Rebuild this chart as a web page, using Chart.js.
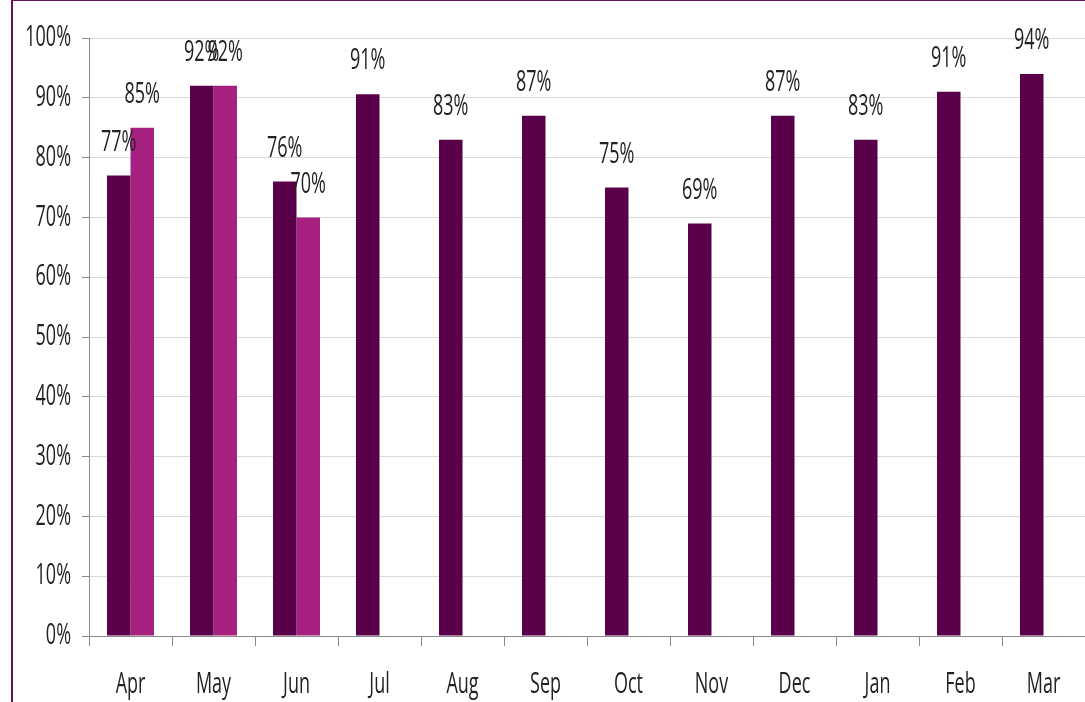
<!DOCTYPE html>
<html>
<head>
<meta charset="utf-8">
<script src="https://cdn.jsdelivr.net/npm/chart.js@4"></script>
<style>
    html, body { margin: 0; padding: 0; background: #fff; overflow: hidden; }
    #wrap { position: relative; width: 1085px; height: 702px; }
    #frame {
        position: absolute; left: 11px; top: -1px; width: 1100px; height: 720px;
        border: 2px solid #6b1060; box-sizing: border-box; pointer-events: none;
    }
    canvas { position: absolute; left: 0; top: 0; }
</style>
</head>
<body>
<div id="wrap">
    <canvas id="chart" width="1085" height="702"></canvas>
    <div id="frame"></div>
</div>
<script>
const months = ['Apr', 'May', 'Jun', 'Jul', 'Aug', 'Sep', 'Oct', 'Nov', 'Dec', 'Jan', 'Feb', 'Mar'];
const seriesA = [77, 92, 76, 90.6, 83, 87, 75, 69, 87, 83, 91, 94];
const seriesB = [85, 92, 70, null, null, null, null, null, null, null, null, null];
const yTicks = [0, 10, 20, 30, 40, 50, 60, 70, 80, 90, 100];

// the original uses a tall, narrow font: draw text squeezed horizontally
const textFont = '29px "Open Sans", "DejaVu Sans", sans-serif';
const squeeze = 0.62;

function narrowText(ctx, text, x, y, align) {
    ctx.save();
    ctx.translate(x, y);
    ctx.scale(squeeze, 1);
    ctx.textAlign = align;
    ctx.fillText(text, 0, 0);
    ctx.restore();
}

const narrowLabels = {
    id: 'narrowLabels',
    afterDraw(chart) {
        const ctx = chart.ctx;
        const xs = chart.scales.x;
        const ys = chart.scales.y;
        ctx.save();
        ctx.font = textFont;
        ctx.fillStyle = '#222';
        ctx.textBaseline = 'middle';

        yTicks.forEach(v => {
            narrowText(ctx, v + '%', 71, ys.getPixelForValue(v), 'right');
        });
        months.forEach((m, i) => {
            narrowText(ctx, m, xs.getPixelForValue(i), 685, 'center');
        });

        // value labels above each bar
        chart.data.datasets.forEach((ds, i) => {
            chart.getDatasetMeta(i).data.forEach((bar, j) => {
                const v = ds.data[j];
                if (v === null) return;
                narrowText(ctx, Math.round(v) + '%', bar.x, bar.y - 33, 'center');
            });
        });
        ctx.restore();
    }
};

new Chart(document.getElementById('chart'), {
    type: 'bar',
    data: {
        labels: months,
        datasets: [{
            data: seriesA,
            backgroundColor: '#5a004a',
            borderWidth: 0
        }, {
            data: seriesB,
            backgroundColor: '#a62080',
            borderWidth: 0
        }]
    },
    options: {
        responsive: false,
        animation: false,
        layout: {
            padding: { left: 0, right: 0, top: 38, bottom: 0 }
        },
        datasets: {
            bar: {
                categoryPercentage: 0.566,
                barPercentage: 1
            }
        },
        scales: {
            x: {
                grid: {
                    offset: true,
                    drawOnChartArea: false,
                    color: '#898989',
                    tickLength: 10
                },
                border: { color: '#898989' },
                ticks: { display: false },
                afterFit: function (axis) { axis.height = 66; }
            },
            y: {
                min: 0,
                max: 100,
                afterBuildTicks: function (axis) {
                    axis.ticks = yTicks.map(v => ({ value: v }));
                },
                grid: {
                    color: '#d9d9d9',
                    tickColor: '#898989',
                    tickLength: 7
                },
                border: { color: '#898989' },
                ticks: { display: false },
                afterFit: function (axis) { axis.width = 89; }
            }
        },
        plugins: {
            legend: { display: false },
            tooltip: { enabled: false }
        }
    },
    plugins: [narrowLabels]
});
</script>
</body>
</html>
